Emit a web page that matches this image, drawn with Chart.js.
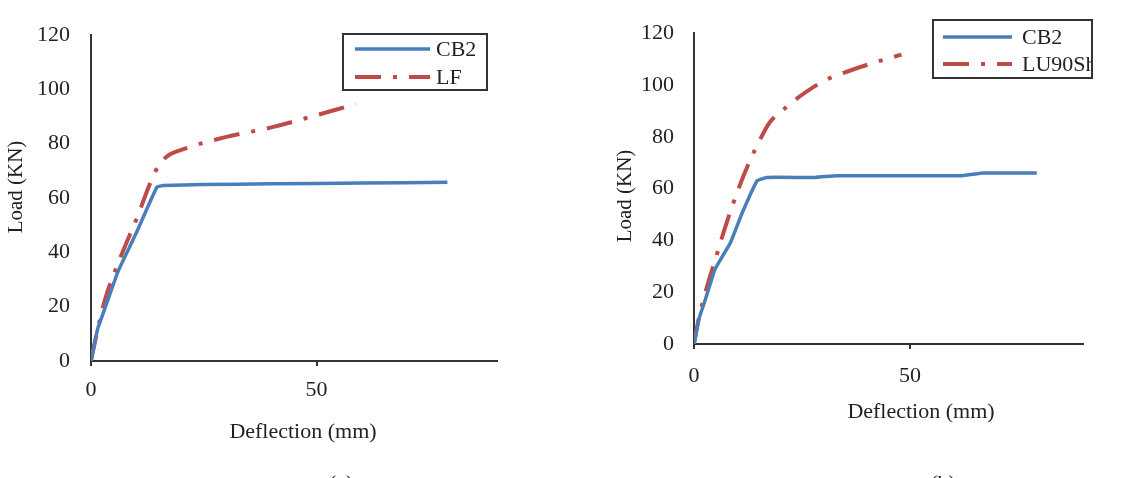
<!DOCTYPE html>
<html>
<head>
<meta charset="utf-8">
<script src="https://cdn.jsdelivr.net/npm/chart.js@4.4.1/dist/chart.umd.min.js"></script>
<style>
  html, body { margin: 0; padding: 0; background: #fff; }
  #wrap { position: relative; width: 1134px; height: 478px; overflow: hidden; }
  canvas { position: absolute; top: 0; }
  #chartA { left: 0; }
  #chartB { left: 567px; }
</style>
</head>
<body>
<div id="wrap">
  <canvas id="chartA" width="567" height="478"></canvas>
  <canvas id="chartB" width="567" height="478"></canvas>
</div>
<script>
// ---------------------------------------------------------------------------
// data (deflection in mm, load in kN)

const xTicks = [0, 50];
const yTicks = [0, 20, 40, 60, 80, 100, 120];

// (a) CB2 vs LF
const defA_CB2  = [0, 1.5, 3, 6, 10, 14.6, 16, 25, 40, 60, 79];
const loadA_CB2 = [0, 12, 19, 33, 47, 64, 64.6, 65, 65.2, 65.5, 65.8];
const defA_LF   = [0, 1, 3, 6.5, 10.5, 13, 15, 17, 20, 30, 40, 50, 58.7];
const loadA_LF  = [0, 8, 22, 38, 54, 65, 72, 75.5, 77.7, 82.5, 86, 90.5, 94.6];

// (b) CB2 vs LU90Sh
const defB_CB2  = [0, 1.2, 2.6, 4.9, 8.4, 11, 14.6, 16.9, 28, 33, 62, 67, 79.3];
const loadB_CB2 = [0, 10, 17, 29, 39, 50, 63, 64.3, 64.3, 65, 65, 66, 66];
const defB_LU   = [0, 1, 2, 3.5, 5, 7, 9, 11, 13, 15.3, 17.5, 20, 24, 30, 36, 42, 48];
const loadB_LU  = [0, 9, 16, 25, 33, 44, 54, 63, 71, 79, 85.5, 89.5, 95, 101.5, 105.5, 108.8, 111.7];

// ---------------------------------------------------------------------------

const FONT = '"Liberation Serif", "Times New Roman", serif';
const TEXT = '#222';
const AXIS = '#333';
const BLUE = '#4A7EBB';
const RED = '#BE4B48';

function pts(xs, ys) {
  return xs.map((x, i) => ({ x: x, y: ys[i] }));
}

// axis titles, legend box and the (cut off) caption, drawn on top
const overlay = {
  id: 'overlay',
  afterDraw(chart, args, o) {
    const ctx = chart.ctx;
    ctx.save();
    ctx.fillStyle = TEXT;
    ctx.textAlign = 'center';
    ctx.textBaseline = 'middle';

    ctx.font = '22px ' + FONT;
    ctx.fillText('Deflection (mm)', o.xTitle[0], o.xTitle[1]);

    ctx.save();
    ctx.translate(o.yTitle[0], o.yTitle[1]);
    ctx.rotate(-Math.PI / 2);
    ctx.font = '21px ' + FONT;
    ctx.fillText('Load (KN)', 0, 0);
    ctx.restore();

    ctx.textBaseline = 'top';
    ctx.font = '22px ' + FONT;
    ctx.fillText(o.caption, o.captionPos[0], o.captionPos[1]);

    // legend
    const b = o.legend.box;
    ctx.save();
    ctx.beginPath();
    ctx.rect(b[0], b[1], b[2] - b[0], b[3] - b[1]);
    ctx.clip();
    ctx.textAlign = 'left';
    ctx.textBaseline = 'middle';
    chart.data.datasets.forEach((ds, i) => {
      const y = o.legend.rows[i];
      ctx.beginPath();
      ctx.lineWidth = ds.borderWidth;
      ctx.strokeStyle = ds.borderColor;
      ctx.setLineDash(ds.borderDash || []);
      ctx.lineCap = 'butt';
      ctx.moveTo(o.legend.line[0], y);
      ctx.lineTo(o.legend.line[1], y);
      ctx.stroke();
      ctx.setLineDash([]);
      ctx.fillStyle = TEXT;
      ctx.fillText(ds.label, o.legend.textX, y + 1);
    });
    ctx.restore();
    ctx.lineWidth = 2;
    ctx.strokeStyle = AXIS;
    ctx.strokeRect(b[0], b[1], b[2] - b[0], b[3] - b[1]);

    ctx.restore();
  }
};

function makeChart(id, sets, lay) {
  return new Chart(document.getElementById(id), {
    type: 'line',
    data: {
      datasets: sets.map(s => ({
        label: s.label,
        data: s.data,
        borderColor: s.color,
        borderWidth: s.width,
        borderDash: s.dash,
        borderCapStyle: 'butt',
        pointRadius: 0,
        tension: s.tension,
        cubicInterpolationMode: s.smooth ? 'monotone' : 'default',
        fill: false
      }))
    },
    options: {
      responsive: false,
      animation: false,
      events: [],
      layout: { padding: { top: lay.top, right: lay.right, left: 0, bottom: 0 } },
      plugins: {
        legend: { display: false },
        tooltip: { enabled: false },
        overlay: lay.overlay
      },
      scales: {
        x: {
          type: 'linear',
          min: 0,
          max: 90,
          afterBuildTicks: (s) => { s.ticks = xTicks.map(v => ({ value: v })); },
          afterFit: (s) => { s.height = lay.xHeight; },
          border: { color: AXIS, width: 2 },
          grid: { drawOnChartArea: false, drawTicks: true, tickLength: 5, color: AXIS, lineWidth: 2 },
          ticks: { color: TEXT, font: { family: FONT, size: 22 }, padding: lay.xPad, maxRotation: 0 }
        },
        y: {
          min: 0,
          max: 120,
          afterBuildTicks: (s) => { s.ticks = yTicks.map(v => ({ value: v })); },
          afterFit: (s) => { s.width = lay.yWidth; },
          border: { color: AXIS, width: 2 },
          grid: { display: true, drawOnChartArea: false, drawTicks: false },
          ticks: { color: TEXT, font: { family: FONT, size: 22 }, padding: lay.yPad }
        }
      }
    },
    plugins: [overlay]
  });
}

const dashDot = [26, 12, 4, 12];

makeChart('chartA', [
  { label: 'CB2', data: pts(defA_CB2, loadA_CB2), color: BLUE, width: 3.5, dash: [], tension: 0.1 },
  { label: 'LF', data: pts(defA_LF, loadA_LF), color: RED, width: 4, dash: dashDot, tension: 0.4, smooth: true }
], {
  top: 35, right: 70, yWidth: 91, xHeight: 117, xPad: 11, yPad: 21,
  overlay: {
    xTitle: [303, 432], yTitle: [16, 187],
    caption: '(a)', captionPos: [341, 473],
    legend: { box: [343, 34, 487, 90], line: [355, 430], textX: 436, rows: [49, 77] }
  }
});

makeChart('chartB', [
  { label: 'CB2', data: pts(defB_CB2, loadB_CB2), color: BLUE, width: 3.5, dash: [], tension: 0.1 },
  { label: 'LU90Sh', data: pts(defB_LU, loadB_LU), color: RED, width: 4, dash: dashDot, tension: 0.4, smooth: true }
], {
  top: 24, right: 51, yWidth: 127, xHeight: 134, xPad: 14, yPad: 20,
  overlay: {
    xTitle: [354, 412], yTitle: [58, 196],
    caption: '(b)', captionPos: [376, 473],
    legend: { box: [366, 20, 525, 78], line: [376, 445], textX: 455, rows: [37, 64] }
  }
});
</script>
</body>
</html>
